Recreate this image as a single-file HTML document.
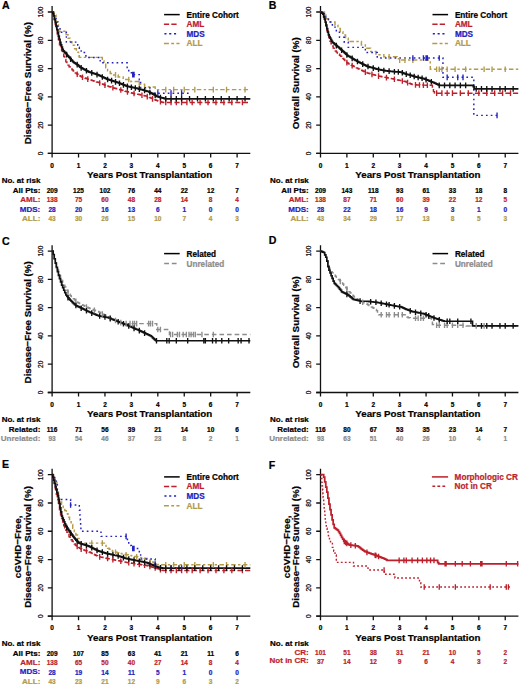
<!DOCTYPE html>
<html><head><meta charset="utf-8"><style>
html,body{margin:0;padding:0;background:#fff;width:520px;height:685px;overflow:hidden}
svg{display:block}
text{font-family:"Liberation Sans", sans-serif}
</style></head><body>
<svg width="520" height="685" viewBox="0 0 520 685" font-family='"Liberation Sans", sans-serif'>
<rect width="520" height="685" fill="#fff"/>
<path d="M52.1,6.1V157.5M47.8,153.4H250.32" fill="none" stroke="#111" stroke-width="1.3"/>
<path d="M47.8,153.4H52.1M47.8,125.12H52.1M47.8,96.84H52.1M47.8,68.56H52.1M47.8,40.28H52.1M47.8,12H52.1M78.53,153.4V157.5M104.96,153.4V157.5M131.39,153.4V157.5M157.82,153.4V157.5M184.25,153.4V157.5M210.68,153.4V157.5M237.11,153.4V157.5" fill="none" stroke="#111" stroke-width="1.3"/>
<text x="42.8" y="153.4" font-size="6.6" fill="#000" stroke="#000" stroke-width="0.22" font-weight="normal" text-anchor="middle" transform="rotate(-90 42.8 153.4)">0</text>
<text x="42.8" y="125.12" font-size="6.6" fill="#000" stroke="#000" stroke-width="0.22" font-weight="normal" text-anchor="middle" transform="rotate(-90 42.8 125.12)">20</text>
<text x="42.8" y="96.84" font-size="6.6" fill="#000" stroke="#000" stroke-width="0.22" font-weight="normal" text-anchor="middle" transform="rotate(-90 42.8 96.84)">40</text>
<text x="42.8" y="68.56" font-size="6.6" fill="#000" stroke="#000" stroke-width="0.22" font-weight="normal" text-anchor="middle" transform="rotate(-90 42.8 68.56)">60</text>
<text x="42.8" y="40.28" font-size="6.6" fill="#000" stroke="#000" stroke-width="0.22" font-weight="normal" text-anchor="middle" transform="rotate(-90 42.8 40.28)">80</text>
<text x="42.8" y="12" font-size="6.6" fill="#000" stroke="#000" stroke-width="0.22" font-weight="normal" text-anchor="middle" transform="rotate(-90 42.8 12)">100</text>
<text x="52.1" y="167.6" font-size="6.5" fill="#000" stroke="#000" stroke-width="0.22" font-weight="bold" text-anchor="middle">0</text>
<text x="78.53" y="167.6" font-size="6.5" fill="#000" stroke="#000" stroke-width="0.22" font-weight="bold" text-anchor="middle">1</text>
<text x="104.96" y="167.6" font-size="6.5" fill="#000" stroke="#000" stroke-width="0.22" font-weight="bold" text-anchor="middle">2</text>
<text x="131.39" y="167.6" font-size="6.5" fill="#000" stroke="#000" stroke-width="0.22" font-weight="bold" text-anchor="middle">3</text>
<text x="157.82" y="167.6" font-size="6.5" fill="#000" stroke="#000" stroke-width="0.22" font-weight="bold" text-anchor="middle">4</text>
<text x="184.25" y="167.6" font-size="6.5" fill="#000" stroke="#000" stroke-width="0.22" font-weight="bold" text-anchor="middle">5</text>
<text x="210.68" y="167.6" font-size="6.5" fill="#000" stroke="#000" stroke-width="0.22" font-weight="bold" text-anchor="middle">6</text>
<text x="237.11" y="167.6" font-size="6.5" fill="#000" stroke="#000" stroke-width="0.22" font-weight="bold" text-anchor="middle">7</text>
<text x="149.63" y="178.1" font-size="9.75" fill="#000" stroke="#000" stroke-width="0.22" font-weight="bold" text-anchor="middle">Years Post Transplantation</text>
<text x="31" y="83.2" font-size="9.8" fill="#000" stroke="#000" stroke-width="0.22" font-weight="bold" text-anchor="middle" transform="rotate(-90 31 83.2)">Disease−Free Survival (%)</text>
<text x="2.1" y="8.9" font-size="10.6" fill="#000" stroke="#000" stroke-width="0.22" font-weight="bold" text-anchor="start">A</text>
<path d="M52.1,12H54.21V15.25H56.06V21.9H58.44V31.23H66.11V34.62H67.96V38.16H70.07V41.69H71.92V45.23H74.57V48.76H76.42V52.3H78.53V55.83H79.32V57.39H102.32V60.78H103.9V64.32H105.75V67.85H107.6V70.68H110.25V73.51H113.68V74.92H118.18V77.04H123.2V79.45H130.86V81.57H138.53V84.26H144.6V86.94H155.18V89.63H250.32" fill="none" stroke="#b39a4c" stroke-width="1.45" stroke-dasharray="4.5 2.4 2.4 2.4"/>
<path d="M52.1,12H54.21V17.09H56.06V22.04H57.91V27.13H60.03V32.22H66.37V42.12H77.74V47.21H79.32V49.75H81.17V52.58H85.93V57.53H100.2V62.76H127.16V67.57H128.75V72.66H131.39V74.64H139.32V79.73H140.64V87.65H149.89V93.16H189.54" fill="none" stroke="#2222c0" stroke-width="1.45" stroke-dasharray="1.7 3.1"/>
<path d="M52.1,12H53.16V15.39H54.21V19.64H55.27V24.44H56.33V29.53H57.39V34.62H58.44V39.65H59.5V44.68H60.56V48.06H61.61V50.89H62.67V53.71H63.73V56.54H64.79V59.37H65.84V61.89H66.9V63.51H67.96V65.13H69.02V66.74H70.07V67.92H71.13V68.95H72.19V69.97H73.24V71H74.3V72.03H75.36V72.98H76.42V73.67H77.47V74.36H78.53V75.06H79.59V75.75H80.64V76.45H81.7V76.91H82.76V77.3H83.82V77.69H84.87V78.08H85.93V78.47H86.99V78.86H88.04V79.25H89.1V79.61H90.16V79.94H91.22V80.27H92.27V80.6H93.33V80.93H94.39V81.26H95.45V81.59H96.5V81.92H97.56V82.25H98.62V82.63H99.67V83.05H100.73V83.48H101.79V83.9H102.85V84.33H103.9V84.75H104.96V85.17H106.02V85.6H107.07V86.02H108.13V86.39H109.19V86.69H110.25V87H111.3V87.31H112.36V87.61H113.42V87.92H114.47V88.22H115.53V88.53H116.59V88.83H117.65V89.14H118.7V89.44H119.76V89.74H120.82V90.04H121.88V90.34H122.93V90.64H123.99V90.93H125.05V91.23H126.1V91.53H127.16V91.83H128.22V92.13H129.28V92.43H130.33V92.73H131.39V92.99H132.45V93.22H133.5V93.44H134.56V93.67H135.62V93.89H136.68V94.11H137.73V94.34H138.79V94.56H139.85V94.79H140.9V95.01H141.96V95.24H143.02V95.46H144.08V95.68H145.13V95.91H146.19V96.13H147.25V96.58H148.31V97.03H149.36V97.48H150.42V97.93H151.48V98.38H152.53V98.83H153.59V99.28H154.65V99.73H155.71V100.18H156.76V100.63H157.82V101.08H158.88V101.36H159.93V101.65H160.99V101.93H162.05V102.21H163.11V102.5H250.32" fill="none" stroke="#bd1f2b" stroke-width="1.45" stroke-dasharray="5.2 2.4"/>
<path d="M52.1,12H52.89V13.7H53.69V15.96H54.48V19.35H55.27V22.75H56.06V26.14H56.86V29.53H57.65V32.9H58.44V36.2H59.24V39.49H60.03V42.47H60.82V44.78H61.61V47.09H62.41V49.41H63.2V50.78H63.99V51.68H64.79V52.58H65.58V53.48H66.37V54.37H67.17V55.27H67.96V56.17H68.75V57.07H69.54V57.97H70.34V58.88H71.13V59.78H71.92V60.69H72.72V61.59H73.51V62.36H74.3V62.84H75.09V63.32H75.89V63.8H76.68V64.28H77.47V64.86H78.27V65.62H79.06V66.38H79.85V67.15H80.64V67.57H81.44V67.99H82.23V68.42H83.02V68.84H83.82V69.27H84.61V69.69H85.4V70.12H86.19V70.54H86.99V70.96H87.78V71.39H88.57V71.81H89.37V72.07H90.16V72.33H90.95V72.59H91.75V72.85H92.54V73.11H93.33V73.37H94.12V73.63H94.92V73.89H95.71V74.15H96.5V74.4H97.3V74.66H98.09V74.92H98.88V75.3H99.67V75.68H100.47V76.05H101.26V76.43H102.05V76.81H102.85V77.19H103.64V77.56H104.43V77.94H105.22V78.32H106.02V78.69H106.81V79.07H107.6V79.45H108.4V79.69H109.19V79.93H109.98V80.17H110.77V80.41H111.57V80.65H112.36V80.89H113.15V81.13H113.95V81.37H114.74V81.61H115.53V81.86H116.32V82.1H117.12V82.34H117.91V82.63H118.7V82.95H119.5V83.27H120.29V83.58H121.08V83.9H121.88V84.22H122.67V84.54H123.46V84.86H124.25V85.17H125.05V85.49H125.84V85.81H126.63V86.13H127.43V86.35H128.22V86.52H129.01V86.69H129.8V86.87H130.6V87.04H131.39V87.21H132.18V87.38H132.98V87.55H133.77V87.73H134.56V87.9H135.35V88.07H136.15V88.24H136.94V88.43H137.73V88.65H138.53V88.86H139.32V89.08H140.11V89.3H140.9V89.51H141.7V89.73H142.49V89.95H143.28V90.16H144.08V90.38H144.87V90.6H145.66V90.82H146.46V91.03H147.25V91.25H148.04V91.47H148.83V91.9H149.63V92.34H150.42V92.77H151.21V93.21H152.01V93.65H152.8V94.08H153.59V94.52H154.38V94.95H155.18V95.39H155.97V95.82H156.76V96.26H157.56V96.69H158.35V96.97H159.14V97.17H159.93V97.37H160.73V97.57H161.52V97.76H162.31V97.96H163.11V98.16H163.9V98.36H164.69V98.56H165.48V98.75H250.32" fill="none" stroke="#111" stroke-width="1.75"/>
<path d="M77.21,71.39V76.99M82.49,74.4V80M87.78,76.36V81.96M99.67,80.25V85.85M104.96,82.37V87.97M112.89,84.96V90.56M120.82,87.24V92.84M127.43,89.11V94.71M134.03,90.75V96.35M141.96,92.44V98.04M147.25,93.78V99.38M152.53,96.03V101.63M160.46,98.99V104.59M165.75,99.7V105.3M171.03,99.7V105.3M176.32,99.7V105.3M181.61,99.7V105.3M186.89,99.7V105.3M192.18,99.7V105.3M200.11,99.7V105.3M208.04,99.7V105.3M215.97,99.7V105.3M223.89,99.7V105.3M231.82,99.7V105.3M242.4,99.7V105.3" fill="none" stroke="#bd1f2b" stroke-width="1.35"/>
<path d="M115.53,72.12V77.72M128.75,76.65V82.25M139.32,81.46V87.06M165.75,86.83V92.43M173.68,86.83V92.43M184.25,86.83V92.43M194.82,86.83V92.43M213.32,86.83V92.43M226.54,86.83V92.43M245.04,86.83V92.43" fill="none" stroke="#b39a4c" stroke-width="1.35"/>
<path d="M132.71,71.84V77.44M134.03,71.84V77.44M157.82,90.36V95.96M171.03,90.36V95.96M181.61,90.36V95.96" fill="none" stroke="#2222c0" stroke-width="1.35"/>
<path d="M66.64,51.87V57.47M70.6,56.38V61.98M77.21,61.8V67.4M81.17,65.05V70.65M86.46,67.88V73.48M91.75,70.05V75.65M97.03,71.78V77.38M102.32,74.13V79.73M107.6,76.65V82.25M111.57,77.85V83.45M115.53,79.06V84.66M119.5,80.47V86.07M123.46,82.06V87.66M127.43,83.55V89.15M131.39,84.41V90.01M135.35,85.27V90.87M139.32,86.28V91.88M144.6,87.73V93.33M149.89,89.68V95.28M155.18,92.59V98.19M160.46,94.7V100.3M165.75,96.02V101.62M171.03,96.02V101.62M176.32,96.02V101.62M181.61,96.02V101.62M189.54,96.02V101.62M197.47,96.02V101.62M205.39,96.02V101.62M213.32,96.02V101.62M221.25,96.02V101.62M229.18,96.02V101.62M237.11,96.02V101.62M245.04,96.02V101.62" fill="none" stroke="#111" stroke-width="1.35"/>
<path d="M164.1,14.6h15.6" stroke="#000" stroke-width="1.5"/>
<text x="186.5" y="17.5" font-size="8.2" fill="#000" stroke="#000" stroke-width="0.22" font-weight="bold" text-anchor="start">Entire Cohort</text>
<path d="M163.9,24.2h12.7" stroke="#bd1f2b" stroke-width="1.5" stroke-dasharray="5.3 2.1"/>
<text x="186.5" y="27.1" font-size="8.2" fill="#bd1f2b" stroke="#bd1f2b" stroke-width="0.22" font-weight="bold" text-anchor="start">AML</text>
<path d="M164.4,33.8h12.1" stroke="#2222c0" stroke-width="1.5" stroke-dasharray="2.1 2.7"/>
<text x="186.5" y="36.7" font-size="8.2" fill="#2222c0" stroke="#2222c0" stroke-width="0.22" font-weight="bold" text-anchor="start">MDS</text>
<path d="M163.9,43.4h15.6" stroke="#b39a4c" stroke-width="1.5" stroke-dasharray="5 2.3 2.9 2.3 3.1 9"/>
<text x="186.5" y="46.3" font-size="8.2" fill="#b39a4c" stroke="#b39a4c" stroke-width="0.22" font-weight="bold" text-anchor="start">ALL</text>
<text x="1.7" y="182.8" font-size="8.0" fill="#000" stroke="#000" stroke-width="0.22" font-weight="bold" text-anchor="start">No. at risk</text>
<text x="40.3" y="192.8" font-size="8.0" fill="#000" stroke="#000" stroke-width="0.22" font-weight="bold" text-anchor="end">All Pts:</text>
<text x="52.1" y="192.9" font-size="6.5" fill="#000" stroke="#000" stroke-width="0.22" font-weight="bold" text-anchor="middle">209</text>
<text x="78.53" y="192.9" font-size="6.5" fill="#000" stroke="#000" stroke-width="0.22" font-weight="bold" text-anchor="middle">125</text>
<text x="104.96" y="192.9" font-size="6.5" fill="#000" stroke="#000" stroke-width="0.22" font-weight="bold" text-anchor="middle">102</text>
<text x="131.39" y="192.9" font-size="6.5" fill="#000" stroke="#000" stroke-width="0.22" font-weight="bold" text-anchor="middle">76</text>
<text x="157.82" y="192.9" font-size="6.5" fill="#000" stroke="#000" stroke-width="0.22" font-weight="bold" text-anchor="middle">44</text>
<text x="184.25" y="192.9" font-size="6.5" fill="#000" stroke="#000" stroke-width="0.22" font-weight="bold" text-anchor="middle">22</text>
<text x="210.68" y="192.9" font-size="6.5" fill="#000" stroke="#000" stroke-width="0.22" font-weight="bold" text-anchor="middle">12</text>
<text x="237.11" y="192.9" font-size="6.5" fill="#000" stroke="#000" stroke-width="0.22" font-weight="bold" text-anchor="middle">7</text>
<text x="40.3" y="202.25" font-size="8.0" fill="#bd1f2b" stroke="#bd1f2b" stroke-width="0.22" font-weight="bold" text-anchor="end">AML:</text>
<text x="52.1" y="202.35" font-size="6.5" fill="#bd1f2b" stroke="#bd1f2b" stroke-width="0.22" font-weight="bold" text-anchor="middle">138</text>
<text x="78.53" y="202.35" font-size="6.5" fill="#bd1f2b" stroke="#bd1f2b" stroke-width="0.22" font-weight="bold" text-anchor="middle">75</text>
<text x="104.96" y="202.35" font-size="6.5" fill="#bd1f2b" stroke="#bd1f2b" stroke-width="0.22" font-weight="bold" text-anchor="middle">60</text>
<text x="131.39" y="202.35" font-size="6.5" fill="#bd1f2b" stroke="#bd1f2b" stroke-width="0.22" font-weight="bold" text-anchor="middle">48</text>
<text x="157.82" y="202.35" font-size="6.5" fill="#bd1f2b" stroke="#bd1f2b" stroke-width="0.22" font-weight="bold" text-anchor="middle">28</text>
<text x="184.25" y="202.35" font-size="6.5" fill="#bd1f2b" stroke="#bd1f2b" stroke-width="0.22" font-weight="bold" text-anchor="middle">14</text>
<text x="210.68" y="202.35" font-size="6.5" fill="#bd1f2b" stroke="#bd1f2b" stroke-width="0.22" font-weight="bold" text-anchor="middle">8</text>
<text x="237.11" y="202.35" font-size="6.5" fill="#bd1f2b" stroke="#bd1f2b" stroke-width="0.22" font-weight="bold" text-anchor="middle">4</text>
<text x="40.3" y="211.7" font-size="8.0" fill="#2222c0" stroke="#2222c0" stroke-width="0.22" font-weight="bold" text-anchor="end">MDS:</text>
<text x="52.1" y="211.8" font-size="6.5" fill="#2222c0" stroke="#2222c0" stroke-width="0.22" font-weight="bold" text-anchor="middle">28</text>
<text x="78.53" y="211.8" font-size="6.5" fill="#2222c0" stroke="#2222c0" stroke-width="0.22" font-weight="bold" text-anchor="middle">20</text>
<text x="104.96" y="211.8" font-size="6.5" fill="#2222c0" stroke="#2222c0" stroke-width="0.22" font-weight="bold" text-anchor="middle">16</text>
<text x="131.39" y="211.8" font-size="6.5" fill="#2222c0" stroke="#2222c0" stroke-width="0.22" font-weight="bold" text-anchor="middle">13</text>
<text x="157.82" y="211.8" font-size="6.5" fill="#2222c0" stroke="#2222c0" stroke-width="0.22" font-weight="bold" text-anchor="middle">6</text>
<text x="184.25" y="211.8" font-size="6.5" fill="#2222c0" stroke="#2222c0" stroke-width="0.22" font-weight="bold" text-anchor="middle">1</text>
<text x="210.68" y="211.8" font-size="6.5" fill="#2222c0" stroke="#2222c0" stroke-width="0.22" font-weight="bold" text-anchor="middle">0</text>
<text x="237.11" y="211.8" font-size="6.5" fill="#2222c0" stroke="#2222c0" stroke-width="0.22" font-weight="bold" text-anchor="middle">0</text>
<text x="40.3" y="221.15" font-size="8.0" fill="#b39a4c" stroke="#b39a4c" stroke-width="0.22" font-weight="bold" text-anchor="end">ALL:</text>
<text x="52.1" y="221.25" font-size="6.5" fill="#b39a4c" stroke="#b39a4c" stroke-width="0.22" font-weight="bold" text-anchor="middle">43</text>
<text x="78.53" y="221.25" font-size="6.5" fill="#b39a4c" stroke="#b39a4c" stroke-width="0.22" font-weight="bold" text-anchor="middle">30</text>
<text x="104.96" y="221.25" font-size="6.5" fill="#b39a4c" stroke="#b39a4c" stroke-width="0.22" font-weight="bold" text-anchor="middle">26</text>
<text x="131.39" y="221.25" font-size="6.5" fill="#b39a4c" stroke="#b39a4c" stroke-width="0.22" font-weight="bold" text-anchor="middle">15</text>
<text x="157.82" y="221.25" font-size="6.5" fill="#b39a4c" stroke="#b39a4c" stroke-width="0.22" font-weight="bold" text-anchor="middle">10</text>
<text x="184.25" y="221.25" font-size="6.5" fill="#b39a4c" stroke="#b39a4c" stroke-width="0.22" font-weight="bold" text-anchor="middle">7</text>
<text x="210.68" y="221.25" font-size="6.5" fill="#b39a4c" stroke="#b39a4c" stroke-width="0.22" font-weight="bold" text-anchor="middle">4</text>
<text x="237.11" y="221.25" font-size="6.5" fill="#b39a4c" stroke="#b39a4c" stroke-width="0.22" font-weight="bold" text-anchor="middle">3</text>
<path d="M320.5,6.1V157.5M316.2,153.4H518.42" fill="none" stroke="#111" stroke-width="1.3"/>
<path d="M316.2,153.4H320.5M316.2,125.12H320.5M316.2,96.84H320.5M316.2,68.56H320.5M316.2,40.28H320.5M316.2,12H320.5M346.89,153.4V157.5M373.28,153.4V157.5M399.67,153.4V157.5M426.06,153.4V157.5M452.45,153.4V157.5M478.84,153.4V157.5M505.23,153.4V157.5" fill="none" stroke="#111" stroke-width="1.3"/>
<text x="311.2" y="153.4" font-size="6.6" fill="#000" stroke="#000" stroke-width="0.22" font-weight="normal" text-anchor="middle" transform="rotate(-90 311.2 153.4)">0</text>
<text x="311.2" y="125.12" font-size="6.6" fill="#000" stroke="#000" stroke-width="0.22" font-weight="normal" text-anchor="middle" transform="rotate(-90 311.2 125.12)">20</text>
<text x="311.2" y="96.84" font-size="6.6" fill="#000" stroke="#000" stroke-width="0.22" font-weight="normal" text-anchor="middle" transform="rotate(-90 311.2 96.84)">40</text>
<text x="311.2" y="68.56" font-size="6.6" fill="#000" stroke="#000" stroke-width="0.22" font-weight="normal" text-anchor="middle" transform="rotate(-90 311.2 68.56)">60</text>
<text x="311.2" y="40.28" font-size="6.6" fill="#000" stroke="#000" stroke-width="0.22" font-weight="normal" text-anchor="middle" transform="rotate(-90 311.2 40.28)">80</text>
<text x="311.2" y="12" font-size="6.6" fill="#000" stroke="#000" stroke-width="0.22" font-weight="normal" text-anchor="middle" transform="rotate(-90 311.2 12)">100</text>
<text x="320.5" y="167.6" font-size="6.5" fill="#000" stroke="#000" stroke-width="0.22" font-weight="bold" text-anchor="middle">0</text>
<text x="346.89" y="167.6" font-size="6.5" fill="#000" stroke="#000" stroke-width="0.22" font-weight="bold" text-anchor="middle">1</text>
<text x="373.28" y="167.6" font-size="6.5" fill="#000" stroke="#000" stroke-width="0.22" font-weight="bold" text-anchor="middle">2</text>
<text x="399.67" y="167.6" font-size="6.5" fill="#000" stroke="#000" stroke-width="0.22" font-weight="bold" text-anchor="middle">3</text>
<text x="426.06" y="167.6" font-size="6.5" fill="#000" stroke="#000" stroke-width="0.22" font-weight="bold" text-anchor="middle">4</text>
<text x="452.45" y="167.6" font-size="6.5" fill="#000" stroke="#000" stroke-width="0.22" font-weight="bold" text-anchor="middle">5</text>
<text x="478.84" y="167.6" font-size="6.5" fill="#000" stroke="#000" stroke-width="0.22" font-weight="bold" text-anchor="middle">6</text>
<text x="505.23" y="167.6" font-size="6.5" fill="#000" stroke="#000" stroke-width="0.22" font-weight="bold" text-anchor="middle">7</text>
<text x="417.88" y="178.1" font-size="9.75" fill="#000" stroke="#000" stroke-width="0.22" font-weight="bold" text-anchor="middle">Years Post Transplantation</text>
<text x="299.4" y="83.2" font-size="9.8" fill="#000" stroke="#000" stroke-width="0.22" font-weight="bold" text-anchor="middle" transform="rotate(-90 299.4 83.2)">Overall Survival (%)</text>
<text x="268.7" y="9.1" font-size="10.6" fill="#000" stroke="#000" stroke-width="0.22" font-weight="bold" text-anchor="start">B</text>
<path d="M320.5,12H324.46V15.25H326.31V18.65H328.42V21.9H335.01V25.15H337.92V28.4H340.29V31.8H342.93V35.05H345.57V38.3H348.21V41.55H361.4V44.95H365.36V48.2H370.64V51.45H375.92V54.7H383.84V56.68H397.03V58.66H399.67V60.08H430.28V69.27H518.42" fill="none" stroke="#b39a4c" stroke-width="1.45" stroke-dasharray="4.5 2.4 2.4 2.4"/>
<path d="M320.5,12H324.46V17.09H328.42V22.04H332.38V27.13H336.33V32.22H339.5V37.31H344.25V42.26H348.21V47.35H365.36V52.44H377.24V57.96H442.95V77.33H473.83V115.36H497.05" fill="none" stroke="#2222c0" stroke-width="1.45" stroke-dasharray="1.7 3.1"/>
<path d="M320.5,12H321.56V12.71H322.61V13.41H323.67V17.45H324.72V21.62H325.78V26.14H326.83V30.66H327.89V34.38H328.94V37.82H330V41.26H331.06V43.75H332.11V45.94H333.17V48.12H334.22V50.02H335.28V51.07H336.33V52.13H337.39V53.18H338.45V54.23H339.5V55.29H340.56V56.34H341.61V57.39H342.67V58.45H343.72V59.5H344.78V60.55H345.83V61.61H346.89V62.66H347.95V63.46H349V64.01H350.06V64.56H351.11V65.11H352.17V65.66H353.22V66.21H354.28V66.76H355.33V67.31H356.39V67.86H357.45V68.4H358.5V68.91H359.56V69.41H360.61V69.91H361.67V70.41H362.72V70.92H363.78V71.42H364.84V71.92H365.89V72.42H366.95V72.88H368V73.19H369.06V73.51H370.11V73.82H371.17V74.14H372.22V74.45H373.28V74.77H374.34V75.08H375.39V75.39H376.45V75.68H377.5V75.89H378.56V76.1H379.61V76.31H380.67V76.52H381.72V76.73H382.78V76.94H383.84V77.15H384.89V77.36H385.95V77.57H387V77.77H388.06V77.98H389.11V78.19H390.17V78.4H391.23V78.61H392.28V78.82H393.34V79.03H394.39V79.24H395.45V79.45H396.5V79.68H397.56V79.92H398.61V80.15H399.67V80.39H400.73V80.63H401.78V80.86H402.84V81.1H403.89V81.33H404.95V81.57H406V82H407.06V82.44H408.11V82.87H409.17V83.3H410.23V83.74H411.28V84.17H412.34V84.6H413.39V84.84H416.56V84.93H419.73V85.03H422.89V85.13H426.06V85.23H429.23V85.32H432.39V88.5H433.45V91.61H434.5V93.16H518.42" fill="none" stroke="#bd1f2b" stroke-width="1.45" stroke-dasharray="5.2 2.4"/>
<path d="M320.5,12H321.29V12.53H322.08V13.06H322.88V14.22H323.67V16.65H324.46V19.07H325.25V22.1H326.04V25.13H326.83V28.52H327.63V32.1H328.42V34.99H329.21V36.52H330V38.05H330.79V39.57H331.58V41.1H332.38V42.34H333.17V42.99H333.96V43.65H334.75V44.3H335.54V44.96H336.33V45.61H337.13V46.27H337.92V46.93H338.71V47.64H339.5V48.36H340.29V49.08H341.08V49.8H341.88V50.52H342.67V51.24H343.46V51.96H344.25V52.68H345.04V53.39H345.83V54.11H346.63V54.83H347.42V55.55H348.21V56.02H349V56.49H349.79V56.96H350.58V57.43H351.38V57.9H352.17V58.37H352.96V58.84H353.75V59.31H354.54V59.78H355.33V60.25H356.13V60.72H356.92V61.19H357.71V61.62H358.5V62.02H359.29V62.42H360.09V62.82H360.88V63.22H361.67V63.62H362.46V64.02H363.25V64.42H364.04V64.82H364.84V65.22H365.63V65.62H366.42V66.02H367.21V66.31H368V66.55H368.79V66.78H369.59V67.02H370.38V67.26H371.17V67.49H371.96V67.73H372.75V67.96H373.54V68.2H374.34V68.43H375.13V68.67H375.92V68.91H376.71V69.09H377.5V69.24H378.29V69.39H379.09V69.55H379.88V69.7H380.67V69.85H381.46V70.01H382.25V70.16H383.04V70.31H383.84V70.46H384.63V70.62H385.42V70.77H386.21V70.88H387V70.96H387.79V71.04H388.59V71.12H389.38V71.2H390.17V71.28H390.96V71.36H391.75V71.44H392.54V71.52H393.34V71.6H394.13V71.68H394.92V71.76H396.5V71.87H398.09V71.96H399.67V72.05H401.25V72.39H402.05V72.69H402.84V72.99H403.63V73.29H404.42V73.59H405.21V73.86H406V74.07H406.8V74.29H407.59V74.5H408.38V74.71H409.17V74.92H409.96V75.14H410.75V75.35H411.55V75.56H412.34V75.83H413.13V76.12H413.92V76.42H414.71V76.68H415.5V76.85H416.3V77.03H417.09V77.2H417.88V77.38H418.67V77.55H419.46V77.73H420.25V77.9H421.05V78.08H421.84V78.25H422.63V78.42H423.42V78.6H424.21V78.92H425V79.23H425.8V79.55H426.59V79.86H427.38V80.18H428.17V80.49H428.96V80.81H429.75V81.12H430.55V81.44H431.34V81.76H432.13V82.07H432.92V82.39H433.71V82.7H434.5V83.02H435.3V83.39H436.09V83.79H436.88V84.19H437.67V84.59H438.46V84.99H439.25V85.39H473.3V86.56H474.09V88.92H518.42" fill="none" stroke="#111" stroke-width="1.75"/>
<path d="M346.89,59.86V65.46M352.17,62.86V68.46M365.36,69.37V74.97M371.96,71.57V77.17M378.56,73.3V78.9M386.48,74.87V80.47M394.39,76.44V82.04M402.31,78.18V83.78M407.59,79.85V85.45M415.5,82.1V87.7M419.46,82.22V87.82M423.42,82.34V87.94M427.38,82.47V88.07M436.62,90.36V95.96M441.89,90.36V95.96M447.17,90.36V95.96M452.45,90.36V95.96M460.37,90.36V95.96M468.28,90.36V95.96M478.84,90.36V95.96M486.76,90.36V95.96M494.67,90.36V95.96M502.59,90.36V95.96M510.51,90.36V95.96" fill="none" stroke="#bd1f2b" stroke-width="1.35"/>
<path d="M389.11,53.88V59.48M399.67,57.28V62.88M404.95,57.28V62.88M412.87,57.28V62.88M436.62,66.47V72.07M439.25,66.47V72.07M441.89,66.47V72.07M447.17,66.47V72.07M455.09,66.47V72.07M465.64,66.47V72.07M484.12,66.47V72.07M492.03,66.47V72.07M505.23,66.47V72.07" fill="none" stroke="#b39a4c" stroke-width="1.35"/>
<path d="M412.87,55.16V60.76M423.42,55.16V60.76M426.06,55.16V60.76M427.38,55.16V60.76M439.25,55.16V60.76M447.17,74.53V80.13M457.73,74.53V80.13M463.01,74.53V80.13M497.05,112.56V118.16" fill="none" stroke="#2222c0" stroke-width="1.35"/>
<path d="M336.33,42.81V48.41M341.61,47.48V53.08M346.89,52.27V57.87M352.17,55.57V61.17M357.45,58.68V64.28M362.72,61.35V66.95M368,63.75V69.35M373.28,65.32V70.92M378.56,66.64V72.24M383.84,67.66V73.26M389.11,68.37V73.97M394.39,68.91V74.51M398.35,69.18V74.78M402.31,69.99V75.59M406.27,71.35V76.95M410.23,72.41V78.01M414.18,73.72V79.32M418.14,74.63V80.23M422.1,75.51V81.11M426.06,76.85V82.45M431.34,78.96V84.56M439.25,82.59V88.19M444.53,82.59V88.19M449.81,82.59V88.19M455.09,82.59V88.19M460.37,82.59V88.19M465.64,82.59V88.19M476.2,86.12V91.72M481.48,86.12V91.72M486.76,86.12V91.72M492.03,86.12V91.72M499.95,86.12V91.72M505.23,86.12V91.72M513.15,86.12V91.72" fill="none" stroke="#111" stroke-width="1.35"/>
<path d="M432.5,14.6h15.6" stroke="#000" stroke-width="1.5"/>
<text x="454.9" y="17.5" font-size="8.2" fill="#000" stroke="#000" stroke-width="0.22" font-weight="bold" text-anchor="start">Entire Cohort</text>
<path d="M432.3,24.2h12.7" stroke="#bd1f2b" stroke-width="1.5" stroke-dasharray="5.3 2.1"/>
<text x="454.9" y="27.1" font-size="8.2" fill="#bd1f2b" stroke="#bd1f2b" stroke-width="0.22" font-weight="bold" text-anchor="start">AML</text>
<path d="M432.8,33.8h12.1" stroke="#2222c0" stroke-width="1.5" stroke-dasharray="2.1 2.7"/>
<text x="454.9" y="36.7" font-size="8.2" fill="#2222c0" stroke="#2222c0" stroke-width="0.22" font-weight="bold" text-anchor="start">MDS</text>
<path d="M432.3,43.4h15.6" stroke="#b39a4c" stroke-width="1.5" stroke-dasharray="5 2.3 2.9 2.3 3.1 9"/>
<text x="454.9" y="46.3" font-size="8.2" fill="#b39a4c" stroke="#b39a4c" stroke-width="0.22" font-weight="bold" text-anchor="start">ALL</text>
<text x="270.1" y="182.8" font-size="8.0" fill="#000" stroke="#000" stroke-width="0.22" font-weight="bold" text-anchor="start">No. at risk</text>
<text x="308.7" y="192.8" font-size="8.0" fill="#000" stroke="#000" stroke-width="0.22" font-weight="bold" text-anchor="end">All Pts:</text>
<text x="320.5" y="192.9" font-size="6.5" fill="#000" stroke="#000" stroke-width="0.22" font-weight="bold" text-anchor="middle">209</text>
<text x="346.89" y="192.9" font-size="6.5" fill="#000" stroke="#000" stroke-width="0.22" font-weight="bold" text-anchor="middle">143</text>
<text x="373.28" y="192.9" font-size="6.5" fill="#000" stroke="#000" stroke-width="0.22" font-weight="bold" text-anchor="middle">118</text>
<text x="399.67" y="192.9" font-size="6.5" fill="#000" stroke="#000" stroke-width="0.22" font-weight="bold" text-anchor="middle">93</text>
<text x="426.06" y="192.9" font-size="6.5" fill="#000" stroke="#000" stroke-width="0.22" font-weight="bold" text-anchor="middle">61</text>
<text x="452.45" y="192.9" font-size="6.5" fill="#000" stroke="#000" stroke-width="0.22" font-weight="bold" text-anchor="middle">33</text>
<text x="478.84" y="192.9" font-size="6.5" fill="#000" stroke="#000" stroke-width="0.22" font-weight="bold" text-anchor="middle">18</text>
<text x="505.23" y="192.9" font-size="6.5" fill="#000" stroke="#000" stroke-width="0.22" font-weight="bold" text-anchor="middle">8</text>
<text x="308.7" y="202.25" font-size="8.0" fill="#bd1f2b" stroke="#bd1f2b" stroke-width="0.22" font-weight="bold" text-anchor="end">AML:</text>
<text x="320.5" y="202.35" font-size="6.5" fill="#bd1f2b" stroke="#bd1f2b" stroke-width="0.22" font-weight="bold" text-anchor="middle">138</text>
<text x="346.89" y="202.35" font-size="6.5" fill="#bd1f2b" stroke="#bd1f2b" stroke-width="0.22" font-weight="bold" text-anchor="middle">87</text>
<text x="373.28" y="202.35" font-size="6.5" fill="#bd1f2b" stroke="#bd1f2b" stroke-width="0.22" font-weight="bold" text-anchor="middle">71</text>
<text x="399.67" y="202.35" font-size="6.5" fill="#bd1f2b" stroke="#bd1f2b" stroke-width="0.22" font-weight="bold" text-anchor="middle">60</text>
<text x="426.06" y="202.35" font-size="6.5" fill="#bd1f2b" stroke="#bd1f2b" stroke-width="0.22" font-weight="bold" text-anchor="middle">39</text>
<text x="452.45" y="202.35" font-size="6.5" fill="#bd1f2b" stroke="#bd1f2b" stroke-width="0.22" font-weight="bold" text-anchor="middle">22</text>
<text x="478.84" y="202.35" font-size="6.5" fill="#bd1f2b" stroke="#bd1f2b" stroke-width="0.22" font-weight="bold" text-anchor="middle">12</text>
<text x="505.23" y="202.35" font-size="6.5" fill="#bd1f2b" stroke="#bd1f2b" stroke-width="0.22" font-weight="bold" text-anchor="middle">5</text>
<text x="308.7" y="211.7" font-size="8.0" fill="#2222c0" stroke="#2222c0" stroke-width="0.22" font-weight="bold" text-anchor="end">MDS:</text>
<text x="320.5" y="211.8" font-size="6.5" fill="#2222c0" stroke="#2222c0" stroke-width="0.22" font-weight="bold" text-anchor="middle">28</text>
<text x="346.89" y="211.8" font-size="6.5" fill="#2222c0" stroke="#2222c0" stroke-width="0.22" font-weight="bold" text-anchor="middle">22</text>
<text x="373.28" y="211.8" font-size="6.5" fill="#2222c0" stroke="#2222c0" stroke-width="0.22" font-weight="bold" text-anchor="middle">18</text>
<text x="399.67" y="211.8" font-size="6.5" fill="#2222c0" stroke="#2222c0" stroke-width="0.22" font-weight="bold" text-anchor="middle">16</text>
<text x="426.06" y="211.8" font-size="6.5" fill="#2222c0" stroke="#2222c0" stroke-width="0.22" font-weight="bold" text-anchor="middle">9</text>
<text x="452.45" y="211.8" font-size="6.5" fill="#2222c0" stroke="#2222c0" stroke-width="0.22" font-weight="bold" text-anchor="middle">3</text>
<text x="478.84" y="211.8" font-size="6.5" fill="#2222c0" stroke="#2222c0" stroke-width="0.22" font-weight="bold" text-anchor="middle">1</text>
<text x="505.23" y="211.8" font-size="6.5" fill="#2222c0" stroke="#2222c0" stroke-width="0.22" font-weight="bold" text-anchor="middle">0</text>
<text x="308.7" y="221.15" font-size="8.0" fill="#b39a4c" stroke="#b39a4c" stroke-width="0.22" font-weight="bold" text-anchor="end">ALL:</text>
<text x="320.5" y="221.25" font-size="6.5" fill="#b39a4c" stroke="#b39a4c" stroke-width="0.22" font-weight="bold" text-anchor="middle">43</text>
<text x="346.89" y="221.25" font-size="6.5" fill="#b39a4c" stroke="#b39a4c" stroke-width="0.22" font-weight="bold" text-anchor="middle">34</text>
<text x="373.28" y="221.25" font-size="6.5" fill="#b39a4c" stroke="#b39a4c" stroke-width="0.22" font-weight="bold" text-anchor="middle">29</text>
<text x="399.67" y="221.25" font-size="6.5" fill="#b39a4c" stroke="#b39a4c" stroke-width="0.22" font-weight="bold" text-anchor="middle">17</text>
<text x="426.06" y="221.25" font-size="6.5" fill="#b39a4c" stroke="#b39a4c" stroke-width="0.22" font-weight="bold" text-anchor="middle">13</text>
<text x="452.45" y="221.25" font-size="6.5" fill="#b39a4c" stroke="#b39a4c" stroke-width="0.22" font-weight="bold" text-anchor="middle">8</text>
<text x="478.84" y="221.25" font-size="6.5" fill="#b39a4c" stroke="#b39a4c" stroke-width="0.22" font-weight="bold" text-anchor="middle">5</text>
<text x="505.23" y="221.25" font-size="6.5" fill="#b39a4c" stroke="#b39a4c" stroke-width="0.22" font-weight="bold" text-anchor="middle">3</text>
<path d="M52.1,245.2V396.6M47.8,392.5H250.32" fill="none" stroke="#111" stroke-width="1.3"/>
<path d="M47.8,392.5H52.1M47.8,364.22H52.1M47.8,335.94H52.1M47.8,307.66H52.1M47.8,279.38H52.1M47.8,251.1H52.1M78.53,392.5V396.6M104.96,392.5V396.6M131.39,392.5V396.6M157.82,392.5V396.6M184.25,392.5V396.6M210.68,392.5V396.6M237.11,392.5V396.6" fill="none" stroke="#111" stroke-width="1.3"/>
<text x="42.8" y="392.5" font-size="6.6" fill="#000" stroke="#000" stroke-width="0.22" font-weight="normal" text-anchor="middle" transform="rotate(-90 42.8 392.5)">0</text>
<text x="42.8" y="364.22" font-size="6.6" fill="#000" stroke="#000" stroke-width="0.22" font-weight="normal" text-anchor="middle" transform="rotate(-90 42.8 364.22)">20</text>
<text x="42.8" y="335.94" font-size="6.6" fill="#000" stroke="#000" stroke-width="0.22" font-weight="normal" text-anchor="middle" transform="rotate(-90 42.8 335.94)">40</text>
<text x="42.8" y="307.66" font-size="6.6" fill="#000" stroke="#000" stroke-width="0.22" font-weight="normal" text-anchor="middle" transform="rotate(-90 42.8 307.66)">60</text>
<text x="42.8" y="279.38" font-size="6.6" fill="#000" stroke="#000" stroke-width="0.22" font-weight="normal" text-anchor="middle" transform="rotate(-90 42.8 279.38)">80</text>
<text x="42.8" y="251.1" font-size="6.6" fill="#000" stroke="#000" stroke-width="0.22" font-weight="normal" text-anchor="middle" transform="rotate(-90 42.8 251.1)">100</text>
<text x="52.1" y="406.7" font-size="6.5" fill="#000" stroke="#000" stroke-width="0.22" font-weight="bold" text-anchor="middle">0</text>
<text x="78.53" y="406.7" font-size="6.5" fill="#000" stroke="#000" stroke-width="0.22" font-weight="bold" text-anchor="middle">1</text>
<text x="104.96" y="406.7" font-size="6.5" fill="#000" stroke="#000" stroke-width="0.22" font-weight="bold" text-anchor="middle">2</text>
<text x="131.39" y="406.7" font-size="6.5" fill="#000" stroke="#000" stroke-width="0.22" font-weight="bold" text-anchor="middle">3</text>
<text x="157.82" y="406.7" font-size="6.5" fill="#000" stroke="#000" stroke-width="0.22" font-weight="bold" text-anchor="middle">4</text>
<text x="184.25" y="406.7" font-size="6.5" fill="#000" stroke="#000" stroke-width="0.22" font-weight="bold" text-anchor="middle">5</text>
<text x="210.68" y="406.7" font-size="6.5" fill="#000" stroke="#000" stroke-width="0.22" font-weight="bold" text-anchor="middle">6</text>
<text x="237.11" y="406.7" font-size="6.5" fill="#000" stroke="#000" stroke-width="0.22" font-weight="bold" text-anchor="middle">7</text>
<text x="149.63" y="417.2" font-size="9.75" fill="#000" stroke="#000" stroke-width="0.22" font-weight="bold" text-anchor="middle">Years Post Transplantation</text>
<text x="31" y="322.3" font-size="9.8" fill="#000" stroke="#000" stroke-width="0.22" font-weight="bold" text-anchor="middle" transform="rotate(-90 31 322.3)">Disease−Free Survival (%)</text>
<text x="2.1" y="244.6" font-size="10.6" fill="#000" stroke="#000" stroke-width="0.22" font-weight="bold" text-anchor="start">C</text>
<path d="M52.1,251.1H53.16V254.49H54.21V258.74H55.27V262.69H56.33V266.09H57.39V269.48H58.44V272.88H59.5V275.53H60.56V277.94H61.61V280.35H62.67V282.77H63.73V285.18H64.79V286.98H65.84V288.79H66.9V290.59H67.96V292.4H69.02V294.2H70.07V295.44H71.13V296.49H72.19V297.55H73.24V298.6H74.3V299.65H75.36V300.71H76.42V301.76H77.47V302.55H78.53V303.08H79.59V303.6H80.64V304.13H81.7V304.66H82.76V305.19H83.82V305.71H84.87V306.24H85.93V306.77H86.99V307.29H88.04V307.82H89.1V308.29H90.16V308.7H91.22V309.11H92.27V309.51H93.33V309.92H94.39V310.33H95.45V310.74H96.5V311.15H97.56V311.56H98.62V312.04H99.67V312.59H100.73V313.14H101.79V313.69H102.85V314.24H103.9V314.78H104.96V315.33H106.02V315.88H107.07V316.43H108.13V316.96H109.19V317.47H110.25V317.97H111.3V318.48H112.36V318.98H113.42V319.48H114.47V319.99H115.53V320.49H116.59V321H117.65V321.47H118.7V321.87H119.76V322.26H120.82V322.65H121.88V323.05H122.93V323.44H123.99V323.64H156.76V329.44H169.45V334.53H250.32" fill="none" stroke="#8c8c8c" stroke-width="1.45" stroke-dasharray="4.6 3"/>
<path d="M52.1,251.1H53.16V254.49H54.21V258.74H55.27V263.12H56.33V267.36H57.39V271.6H58.44V275.36H59.5V278.63H60.56V281.9H61.61V285.18H62.67V287.7H63.73V290.23H64.79V292.76H65.84V294.99H66.9V296.37H67.96V297.74H69.02V299.12H70.07V300.23H71.13V301.26H72.19V302.29H73.24V303.32H74.3V304.34H75.36V305.25H76.42V305.79H77.47V306.33H78.53V306.87H79.59V307.41H80.64V307.95H81.7V308.46H82.76V308.97H83.82V309.48H84.87V309.99H85.93V310.49H86.99V311H88.04V311.51H89.1V311.98H90.16V312.42H91.22V312.86H92.27V313.3H93.33V313.74H94.39V314.18H95.45V314.62H96.5V315.06H97.56V315.5H98.62V315.82H99.67V316.03H100.73V316.23H101.79V316.43H102.85V316.64H103.9V316.84H104.96V317.05H106.02V317.25H107.07V317.46H108.13V317.76H109.19V318.18H110.25V318.59H111.3V319H112.36V319.42H113.42V319.83H114.47V320.24H115.53V320.65H116.59V321.07H117.65V321.48H118.7V321.91H119.76V322.33H120.82V322.75H121.88V323.18H122.93V323.6H123.99V324.03H125.05V324.45H126.1V324.88H127.16V325.31H128.22V325.78H129.28V326.24H130.33V326.71H131.39V327.17H132.45V327.64H133.5V328.1H134.56V328.57H135.62V329.03H136.68V329.49H137.73V329.96H138.79V330.42H139.85V330.89H140.9V331.35H141.96V331.83H143.02V332.34H144.08V332.86H145.13V333.38H146.19V333.9H147.25V334.41H148.31V334.93H149.36V335.45H150.42V335.96H151.48V336.76H152.53V337.82H153.59V338.88H154.65V339.95H155.71V340.75H250.32" fill="none" stroke="#111" stroke-width="1.7"/>
<path d="M67.96,289.6V295.2M75.89,298.43V304.03M86.46,304.23V309.83M94.39,307.53V313.13M102.32,311.16V316.76M110.25,315.17V320.77M115.53,317.69V323.29M120.82,319.85V325.45M126.1,320.84V326.44M130.07,320.84V326.44M132.71,320.84V326.44M134.56,320.84V326.44M136.68,320.84V326.44M148.57,320.84V326.44M150.42,320.84V326.44M152.53,320.84V326.44M157.82,326.64V332.24M160.46,326.64V332.24M170.51,331.73V337.33M172.62,331.73V337.33M177.38,331.73V337.33M179.49,331.73V337.33M183.19,331.73V337.33M186.36,331.73V337.33M189.01,331.73V337.33M191.12,331.73V337.33M193.5,331.73V337.33M195.35,331.73V337.33M201.96,331.73V337.33M213.32,331.73V337.33" fill="none" stroke="#8c8c8c" stroke-width="1.35"/>
<path d="M67.96,294.94V300.54M75.89,302.72V308.32M81.17,305.41V311.01M86.46,307.95V313.55M91.75,310.28V315.88M99.67,313.23V318.83M104.96,314.25V319.85M110.25,315.79V321.39M118.18,318.89V324.49M123.46,321.01V326.61M128.75,323.21V328.81M134.03,325.53V331.13M139.32,327.85V333.45M144.6,330.32V335.92M156.5,337.95V343.55M166.81,337.95V343.55M169.18,337.95V343.55M176.32,337.95V343.55M187.69,337.95V343.55M203.81,337.95V343.55M205.39,337.95V343.55M212.53,337.95V343.55M215.97,337.95V343.55M221.78,337.95V343.55M228.65,337.95V343.55M238.17,337.95V343.55M241.07,337.95V343.55M249,337.95V343.55" fill="none" stroke="#111" stroke-width="1.35"/>
<path d="M164.1,253.6h15.6" stroke="#000" stroke-width="1.5"/>
<text x="186.5" y="256.5" font-size="8.2" fill="#000" stroke="#000" stroke-width="0.22" font-weight="bold" text-anchor="start">Related</text>
<path d="M164.2,263.6h12.5" stroke="#8c8c8c" stroke-width="1.5" stroke-dasharray="4.8 2.8"/>
<text x="186.5" y="266.5" font-size="8.2" fill="#8c8c8c" stroke="#8c8c8c" stroke-width="0.22" font-weight="bold" text-anchor="start">Unrelated</text>
<text x="1.7" y="421.9" font-size="8.0" fill="#000" stroke="#000" stroke-width="0.22" font-weight="bold" text-anchor="start">No. at risk</text>
<text x="40.3" y="431.9" font-size="8.0" fill="#000" stroke="#000" stroke-width="0.22" font-weight="bold" text-anchor="end">Related:</text>
<text x="52.1" y="432" font-size="6.5" fill="#000" stroke="#000" stroke-width="0.22" font-weight="bold" text-anchor="middle">116</text>
<text x="78.53" y="432" font-size="6.5" fill="#000" stroke="#000" stroke-width="0.22" font-weight="bold" text-anchor="middle">71</text>
<text x="104.96" y="432" font-size="6.5" fill="#000" stroke="#000" stroke-width="0.22" font-weight="bold" text-anchor="middle">56</text>
<text x="131.39" y="432" font-size="6.5" fill="#000" stroke="#000" stroke-width="0.22" font-weight="bold" text-anchor="middle">39</text>
<text x="157.82" y="432" font-size="6.5" fill="#000" stroke="#000" stroke-width="0.22" font-weight="bold" text-anchor="middle">21</text>
<text x="184.25" y="432" font-size="6.5" fill="#000" stroke="#000" stroke-width="0.22" font-weight="bold" text-anchor="middle">14</text>
<text x="210.68" y="432" font-size="6.5" fill="#000" stroke="#000" stroke-width="0.22" font-weight="bold" text-anchor="middle">10</text>
<text x="237.11" y="432" font-size="6.5" fill="#000" stroke="#000" stroke-width="0.22" font-weight="bold" text-anchor="middle">6</text>
<text x="40.3" y="441.35" font-size="8.0" fill="#8c8c8c" stroke="#8c8c8c" stroke-width="0.22" font-weight="bold" text-anchor="end">Unrelated:</text>
<text x="52.1" y="441.45" font-size="6.5" fill="#8c8c8c" stroke="#8c8c8c" stroke-width="0.22" font-weight="bold" text-anchor="middle">93</text>
<text x="78.53" y="441.45" font-size="6.5" fill="#8c8c8c" stroke="#8c8c8c" stroke-width="0.22" font-weight="bold" text-anchor="middle">54</text>
<text x="104.96" y="441.45" font-size="6.5" fill="#8c8c8c" stroke="#8c8c8c" stroke-width="0.22" font-weight="bold" text-anchor="middle">46</text>
<text x="131.39" y="441.45" font-size="6.5" fill="#8c8c8c" stroke="#8c8c8c" stroke-width="0.22" font-weight="bold" text-anchor="middle">37</text>
<text x="157.82" y="441.45" font-size="6.5" fill="#8c8c8c" stroke="#8c8c8c" stroke-width="0.22" font-weight="bold" text-anchor="middle">23</text>
<text x="184.25" y="441.45" font-size="6.5" fill="#8c8c8c" stroke="#8c8c8c" stroke-width="0.22" font-weight="bold" text-anchor="middle">8</text>
<text x="210.68" y="441.45" font-size="6.5" fill="#8c8c8c" stroke="#8c8c8c" stroke-width="0.22" font-weight="bold" text-anchor="middle">2</text>
<text x="237.11" y="441.45" font-size="6.5" fill="#8c8c8c" stroke="#8c8c8c" stroke-width="0.22" font-weight="bold" text-anchor="middle">1</text>
<path d="M320.5,245.2V396.6M316.2,392.5H518.42" fill="none" stroke="#111" stroke-width="1.3"/>
<path d="M316.2,392.5H320.5M316.2,364.22H320.5M316.2,335.94H320.5M316.2,307.66H320.5M316.2,279.38H320.5M316.2,251.1H320.5M346.89,392.5V396.6M373.28,392.5V396.6M399.67,392.5V396.6M426.06,392.5V396.6M452.45,392.5V396.6M478.84,392.5V396.6M505.23,392.5V396.6" fill="none" stroke="#111" stroke-width="1.3"/>
<text x="311.2" y="392.5" font-size="6.6" fill="#000" stroke="#000" stroke-width="0.22" font-weight="normal" text-anchor="middle" transform="rotate(-90 311.2 392.5)">0</text>
<text x="311.2" y="364.22" font-size="6.6" fill="#000" stroke="#000" stroke-width="0.22" font-weight="normal" text-anchor="middle" transform="rotate(-90 311.2 364.22)">20</text>
<text x="311.2" y="335.94" font-size="6.6" fill="#000" stroke="#000" stroke-width="0.22" font-weight="normal" text-anchor="middle" transform="rotate(-90 311.2 335.94)">40</text>
<text x="311.2" y="307.66" font-size="6.6" fill="#000" stroke="#000" stroke-width="0.22" font-weight="normal" text-anchor="middle" transform="rotate(-90 311.2 307.66)">60</text>
<text x="311.2" y="279.38" font-size="6.6" fill="#000" stroke="#000" stroke-width="0.22" font-weight="normal" text-anchor="middle" transform="rotate(-90 311.2 279.38)">80</text>
<text x="311.2" y="251.1" font-size="6.6" fill="#000" stroke="#000" stroke-width="0.22" font-weight="normal" text-anchor="middle" transform="rotate(-90 311.2 251.1)">100</text>
<text x="320.5" y="406.7" font-size="6.5" fill="#000" stroke="#000" stroke-width="0.22" font-weight="bold" text-anchor="middle">0</text>
<text x="346.89" y="406.7" font-size="6.5" fill="#000" stroke="#000" stroke-width="0.22" font-weight="bold" text-anchor="middle">1</text>
<text x="373.28" y="406.7" font-size="6.5" fill="#000" stroke="#000" stroke-width="0.22" font-weight="bold" text-anchor="middle">2</text>
<text x="399.67" y="406.7" font-size="6.5" fill="#000" stroke="#000" stroke-width="0.22" font-weight="bold" text-anchor="middle">3</text>
<text x="426.06" y="406.7" font-size="6.5" fill="#000" stroke="#000" stroke-width="0.22" font-weight="bold" text-anchor="middle">4</text>
<text x="452.45" y="406.7" font-size="6.5" fill="#000" stroke="#000" stroke-width="0.22" font-weight="bold" text-anchor="middle">5</text>
<text x="478.84" y="406.7" font-size="6.5" fill="#000" stroke="#000" stroke-width="0.22" font-weight="bold" text-anchor="middle">6</text>
<text x="505.23" y="406.7" font-size="6.5" fill="#000" stroke="#000" stroke-width="0.22" font-weight="bold" text-anchor="middle">7</text>
<text x="417.88" y="417.2" font-size="9.75" fill="#000" stroke="#000" stroke-width="0.22" font-weight="bold" text-anchor="middle">Years Post Transplantation</text>
<text x="299.4" y="322.3" font-size="9.8" fill="#000" stroke="#000" stroke-width="0.22" font-weight="bold" text-anchor="middle" transform="rotate(-90 299.4 322.3)">Overall Survival (%)</text>
<text x="268.7" y="244" font-size="10.6" fill="#000" stroke="#000" stroke-width="0.22" font-weight="bold" text-anchor="start">D</text>
<path d="M320.5,251.1H321.56V251.57H322.61V252.04H323.67V252.51H324.72V254.89H325.78V257.27H326.83V260.8H327.89V265.48H328.94V268.24H330V270.37H331.06V271.74H332.11V272.86H333.17V273.98H334.22V275.1H335.28V276.22H336.33V277.34H337.39V278.46H338.45V279.58H339.5V280.7H340.56V281.82H341.61V282.94H342.67V284.06H343.72V285.18H344.78V286.48H345.83V287.79H346.89V289.1H347.95V290.4H349V291.71H350.06V293.02H351.11V294.32H352.17V295.31H353.22V296.18H354.28V297.06H355.33V297.93H356.39V298.8H357.45V299.59H358.5V300.11H359.56V300.63H360.61V301.14H361.67V301.66H362.72V302.18H363.78V302.7H364.84V303.22H365.89V303.74H366.95V304.29H368V304.93H369.06V305.57H370.11V306.22H371.17V306.86H372.22V307.51H373.28V308.15H374.34V308.8H375.39V309.44H376.45V310.61H377.5V313.36H378.56V314.73H406V315.86H407.06V316.99H408.11V317.65H409.17V317.82H410.23V318H411.28V318.18H412.34V318.26H431.34V321.34H432.39V324.42H433.45V325.19H465.12V325.43H466.17V325.9H518.42" fill="none" stroke="#8c8c8c" stroke-width="1.45" stroke-dasharray="4.6 3"/>
<path d="M320.5,251.1H321.56V251.57H322.61V252.04H323.67V252.51H324.72V254.89H325.78V257.27H326.83V261.16H327.89V266.57H328.94V270.1H330V273H331.06V275.75H332.11V278.46H333.17V281.17H334.22V283.45H335.28V284.47H336.33V285.49H337.39V286.51H338.45V287.7H339.5V289.08H340.56V290.45H341.61V291.82H342.67V292.34H343.72V292.85H344.78V293.37H345.83V293.88H346.89V294.39H347.95V295.09H349V295.96H350.06V296.84H351.11V297.71H352.17V298.58H353.22V299.46H354.28V299.71H355.33V299.97H356.39V300.22H357.45V300.47H358.5V300.73H359.56V300.98H360.61V301.23H366.95V301.32H368V301.43H369.06V301.54H370.11V301.65H371.17V301.76H372.22V301.87H373.28V301.98H374.34V302.09H375.39V302.2H376.45V302.34H377.5V302.54H378.56V302.75H379.61V302.95H380.67V303.15H381.72V303.36H382.78V303.56H383.84V303.77H384.89V303.97H385.95V304.18H387V304.39H388.06V304.61H389.11V304.82H390.17V305.03H391.23V305.25H392.28V305.46H393.34V305.68H394.39V305.89H395.45V306.1H396.5V306.25H397.56V306.4H398.61V306.55H399.67V306.7H400.73V306.94H401.78V307.44H402.84V307.93H403.89V308.43H404.95V308.93H406V309.32H407.06V309.72H408.11V310.11H409.17V310.5H410.23V310.89H411.28V311.28H412.34V311.58H413.39V311.79H414.45V311.99H415.5V312.2H416.56V312.4H417.62V312.61H418.67V312.81H419.73V313.02H420.78V313.23H421.84V313.43H422.89V313.64H423.95V313.95H425V314.37H426.06V314.79H427.12V315.21H428.17V315.63H429.23V316.06H430.28V316.48H431.34V316.9H432.39V317.32H433.45V317.74H434.5V318.16H435.56V318.52H436.62V318.86H437.67V319.2H438.73V319.54H439.78V319.88H440.84V320.22H441.89V320.56H442.95V320.9H444.01V321.23H472.51V325.9H518.42" fill="none" stroke="#111" stroke-width="1.7"/>
<path d="M340.29,278.74V284.34M346.89,286.3V291.9M362.72,299.38V304.98M381.2,311.93V317.53M386.48,311.93V317.53M389.11,311.93V317.53M394.39,311.93V317.53M398.35,311.93V317.53M402.31,311.93V317.53M415.5,315.46V321.06M418.14,315.46V321.06M420.78,315.46V321.06M423.42,315.46V321.06M436.62,322.39V327.99M439.25,322.39V327.99M444.53,322.39V327.99M447.17,322.39V327.99M452.45,322.39V327.99M457.73,322.39V327.99M463.01,322.39V327.99M476.2,323.1V328.7M484.12,323.1V328.7" fill="none" stroke="#8c8c8c" stroke-width="1.35"/>
<path d="M346.89,291.59V297.19M360.08,298.31V303.91M370.64,298.91V304.51M375.92,299.46V305.06M381.2,300.46V306.06M386.48,301.49V307.09M389.11,302.02V307.62M394.39,303.09V308.69M399.67,303.9V309.5M410.23,308.09V313.69M415.5,309.4V315M420.78,310.43V316.03M426.06,311.99V317.59M428.7,313.04V318.64M433.98,315.15V320.75M439.25,316.91V322.51M447.17,318.43V324.03M449.81,318.43V324.03M457.73,318.43V324.03M470.92,318.43V324.03M481.48,323.1V328.7M486.76,323.1V328.7M492.03,323.1V328.7M499.95,323.1V328.7M505.23,323.1V328.7M513.15,323.1V328.7" fill="none" stroke="#111" stroke-width="1.35"/>
<path d="M432.5,253.6h15.6" stroke="#000" stroke-width="1.5"/>
<text x="454.9" y="256.5" font-size="8.2" fill="#000" stroke="#000" stroke-width="0.22" font-weight="bold" text-anchor="start">Related</text>
<path d="M432.6,263.6h12.5" stroke="#8c8c8c" stroke-width="1.5" stroke-dasharray="4.8 2.8"/>
<text x="454.9" y="266.5" font-size="8.2" fill="#8c8c8c" stroke="#8c8c8c" stroke-width="0.22" font-weight="bold" text-anchor="start">Unrelated</text>
<text x="270.1" y="421.9" font-size="8.0" fill="#000" stroke="#000" stroke-width="0.22" font-weight="bold" text-anchor="start">No. at risk</text>
<text x="308.7" y="431.9" font-size="8.0" fill="#000" stroke="#000" stroke-width="0.22" font-weight="bold" text-anchor="end">Related:</text>
<text x="320.5" y="432" font-size="6.5" fill="#000" stroke="#000" stroke-width="0.22" font-weight="bold" text-anchor="middle">116</text>
<text x="346.89" y="432" font-size="6.5" fill="#000" stroke="#000" stroke-width="0.22" font-weight="bold" text-anchor="middle">80</text>
<text x="373.28" y="432" font-size="6.5" fill="#000" stroke="#000" stroke-width="0.22" font-weight="bold" text-anchor="middle">67</text>
<text x="399.67" y="432" font-size="6.5" fill="#000" stroke="#000" stroke-width="0.22" font-weight="bold" text-anchor="middle">53</text>
<text x="426.06" y="432" font-size="6.5" fill="#000" stroke="#000" stroke-width="0.22" font-weight="bold" text-anchor="middle">35</text>
<text x="452.45" y="432" font-size="6.5" fill="#000" stroke="#000" stroke-width="0.22" font-weight="bold" text-anchor="middle">23</text>
<text x="478.84" y="432" font-size="6.5" fill="#000" stroke="#000" stroke-width="0.22" font-weight="bold" text-anchor="middle">14</text>
<text x="505.23" y="432" font-size="6.5" fill="#000" stroke="#000" stroke-width="0.22" font-weight="bold" text-anchor="middle">7</text>
<text x="308.7" y="441.35" font-size="8.0" fill="#8c8c8c" stroke="#8c8c8c" stroke-width="0.22" font-weight="bold" text-anchor="end">Unrelated:</text>
<text x="320.5" y="441.45" font-size="6.5" fill="#8c8c8c" stroke="#8c8c8c" stroke-width="0.22" font-weight="bold" text-anchor="middle">93</text>
<text x="346.89" y="441.45" font-size="6.5" fill="#8c8c8c" stroke="#8c8c8c" stroke-width="0.22" font-weight="bold" text-anchor="middle">63</text>
<text x="373.28" y="441.45" font-size="6.5" fill="#8c8c8c" stroke="#8c8c8c" stroke-width="0.22" font-weight="bold" text-anchor="middle">51</text>
<text x="399.67" y="441.45" font-size="6.5" fill="#8c8c8c" stroke="#8c8c8c" stroke-width="0.22" font-weight="bold" text-anchor="middle">40</text>
<text x="426.06" y="441.45" font-size="6.5" fill="#8c8c8c" stroke="#8c8c8c" stroke-width="0.22" font-weight="bold" text-anchor="middle">26</text>
<text x="452.45" y="441.45" font-size="6.5" fill="#8c8c8c" stroke="#8c8c8c" stroke-width="0.22" font-weight="bold" text-anchor="middle">10</text>
<text x="478.84" y="441.45" font-size="6.5" fill="#8c8c8c" stroke="#8c8c8c" stroke-width="0.22" font-weight="bold" text-anchor="middle">4</text>
<text x="505.23" y="441.45" font-size="6.5" fill="#8c8c8c" stroke="#8c8c8c" stroke-width="0.22" font-weight="bold" text-anchor="middle">1</text>
<path d="M52.1,468.8V620.2M47.8,616.1H250.32" fill="none" stroke="#111" stroke-width="1.3"/>
<path d="M47.8,616.1H52.1M47.8,587.82H52.1M47.8,559.54H52.1M47.8,531.26H52.1M47.8,502.98H52.1M47.8,474.7H52.1M78.53,616.1V620.2M104.96,616.1V620.2M131.39,616.1V620.2M157.82,616.1V620.2M184.25,616.1V620.2M210.68,616.1V620.2M237.11,616.1V620.2" fill="none" stroke="#111" stroke-width="1.3"/>
<text x="42.8" y="616.1" font-size="6.6" fill="#000" stroke="#000" stroke-width="0.22" font-weight="normal" text-anchor="middle" transform="rotate(-90 42.8 616.1)">0</text>
<text x="42.8" y="587.82" font-size="6.6" fill="#000" stroke="#000" stroke-width="0.22" font-weight="normal" text-anchor="middle" transform="rotate(-90 42.8 587.82)">20</text>
<text x="42.8" y="559.54" font-size="6.6" fill="#000" stroke="#000" stroke-width="0.22" font-weight="normal" text-anchor="middle" transform="rotate(-90 42.8 559.54)">40</text>
<text x="42.8" y="531.26" font-size="6.6" fill="#000" stroke="#000" stroke-width="0.22" font-weight="normal" text-anchor="middle" transform="rotate(-90 42.8 531.26)">60</text>
<text x="42.8" y="502.98" font-size="6.6" fill="#000" stroke="#000" stroke-width="0.22" font-weight="normal" text-anchor="middle" transform="rotate(-90 42.8 502.98)">80</text>
<text x="42.8" y="474.7" font-size="6.6" fill="#000" stroke="#000" stroke-width="0.22" font-weight="normal" text-anchor="middle" transform="rotate(-90 42.8 474.7)">100</text>
<text x="52.1" y="630.3" font-size="6.5" fill="#000" stroke="#000" stroke-width="0.22" font-weight="bold" text-anchor="middle">0</text>
<text x="78.53" y="630.3" font-size="6.5" fill="#000" stroke="#000" stroke-width="0.22" font-weight="bold" text-anchor="middle">1</text>
<text x="104.96" y="630.3" font-size="6.5" fill="#000" stroke="#000" stroke-width="0.22" font-weight="bold" text-anchor="middle">2</text>
<text x="131.39" y="630.3" font-size="6.5" fill="#000" stroke="#000" stroke-width="0.22" font-weight="bold" text-anchor="middle">3</text>
<text x="157.82" y="630.3" font-size="6.5" fill="#000" stroke="#000" stroke-width="0.22" font-weight="bold" text-anchor="middle">4</text>
<text x="184.25" y="630.3" font-size="6.5" fill="#000" stroke="#000" stroke-width="0.22" font-weight="bold" text-anchor="middle">5</text>
<text x="210.68" y="630.3" font-size="6.5" fill="#000" stroke="#000" stroke-width="0.22" font-weight="bold" text-anchor="middle">6</text>
<text x="237.11" y="630.3" font-size="6.5" fill="#000" stroke="#000" stroke-width="0.22" font-weight="bold" text-anchor="middle">7</text>
<text x="149.63" y="640.8" font-size="9.75" fill="#000" stroke="#000" stroke-width="0.22" font-weight="bold" text-anchor="middle">Years Post Transplantation</text>
<text x="21.4" y="546.9" font-size="9.75" fill="#000" stroke="#000" stroke-width="0.22" font-weight="bold" text-anchor="middle" transform="rotate(-90 21.4 546.9)">cGVHD−Free,</text>
<text x="31" y="546.9" font-size="9.75" fill="#000" stroke="#000" stroke-width="0.22" font-weight="bold" text-anchor="middle" transform="rotate(-90 31 546.9)">Disease−Free Survival (%)</text>
<text x="2.1" y="468" font-size="10.6" fill="#000" stroke="#000" stroke-width="0.22" font-weight="bold" text-anchor="start">E</text>
<path d="M52.1,474.7H53.69V477.25H55.27V482.22H56.86V492.05H58.44V499.42H60.03V501.91H61.61V504.39H63.2V507.5H64.79V510.62H66.37V513.84H67.96V517.17H69.54V520.59H71.13V524.44H72.72V528.28H74.3V531.77H75.89V535.08H77.47V538.4H79.06V542.15H80.64V543.14H104.43V544.23H106.02V547.14H107.6V548.22H109.19V549.29H110.77V550.37H112.36V551.18H113.95V551.72H115.53V552.26H117.12V552.8H118.7V553.17H120.29V553.5H121.88V553.83H123.46V554.16H125.05V554.49H126.63V554.82H128.22V555.14H129.8V555.46H131.39V555.78H132.98V556.1H134.56V556.43H136.15V556.75H137.73V557.06H139.32V557.36H140.9V557.67H142.49V557.98H144.08V558.28H145.66V558.59H147.25V559.29H148.83V560.19H150.42V561.09H152.01V561.99H153.59V562.88H155.18V563.78H156.76V564.38H158.35V564.77H250.32" fill="none" stroke="#b39a4c" stroke-width="1.45" stroke-dasharray="4.5 2.4 2.4 2.4"/>
<path d="M52.1,474.7H54.74V479.79H56.06V484.74H57.39V489.83H57.91V494.92H58.71V499.59H70.6V504.96H79.32V510.05H79.85V515.14H80.38V520.09H80.64V525.18H80.91V531.26H101V536.35H127.43V541.3H128.75V545.4H131.39V548.51H139.32V553.88H140.64V558.97H155.18V564.06H157.82V568.02H197.47" fill="none" stroke="#2222c0" stroke-width="1.45" stroke-dasharray="1.7 3.1"/>
<path d="M52.1,474.7H53.16V478.09H54.21V483.18H55.27V488.77H56.33V494.27H57.39V499.78H58.44V505.29H59.5V510.79H60.56V514.89H61.61V518.51H62.67V522.13H63.73V525.75H64.79V527.95H65.84V530.16H66.9V532.37H67.96V534.58H69.02V536.79H70.07V538.4H71.13V539.81H72.19V541.23H73.24V542.64H74.3V544.06H75.36V545.3H76.42V546.02H77.47V546.74H78.53V547.46H79.59V548.18H80.64V548.9H81.7V549.35H82.76V549.72H83.82V550.1H84.87V550.47H85.93V550.84H86.99V551.21H88.04V551.58H89.1V552.03H90.16V552.56H91.22V553.1H92.27V553.63H93.33V554.17H94.39V554.7H95.45V555.24H96.5V555.77H97.56V556.3H98.62V556.68H99.67V556.9H100.73V557.12H101.79V557.34H102.85V557.56H103.9V557.78H104.96V558H106.02V558.22H107.07V558.44H108.13V558.66H109.19V558.88H110.25V559.09H111.3V559.31H112.36V559.53H113.42V559.74H114.47V559.96H115.53V560.18H116.59V560.39H117.65V560.61H118.7V560.83H119.76V561.05H120.82V561.26H121.88V561.48H122.93V561.7H123.99V561.91H125.05V562.13H126.1V562.35H127.16V562.55H128.22V562.71H129.28V562.88H130.33V563.04H131.39V563.2H132.45V563.36H133.5V563.53H134.56V563.69H135.62V563.85H136.68V564.01H137.73V564.18H138.79V564.34H139.85V564.5H140.9V564.67H141.96V564.83H143.02V564.99H144.08V565.15H145.13V565.32H146.19V565.48H147.25V565.77H148.31V566.07H149.36V566.37H150.42V566.66H151.48V566.96H152.53V567.25H153.59V567.55H154.65V567.84H155.71V568.14H156.76V568.44H157.82V568.73H158.88V569.1H159.93V569.47H160.99V569.83H162.05V570.2H163.11V570.57H250.32" fill="none" stroke="#bd1f2b" stroke-width="1.45" stroke-dasharray="5.2 2.4"/>
<path d="M52.1,474.7H52.89V477.25H53.69V480.07H54.48V483.47H55.27V486.6H56.06V489.61H56.86V492.61H57.65V495.62H58.44V499.4H59.24V503.59H60.03V507.77H60.82V511.95H61.61V516.13H62.41V518.05H63.2V519.98H63.99V521.9H64.79V523.82H65.58V525.75H66.37V526.96H67.17V528.17H67.96V529.38H68.75V530.59H69.54V531.75H70.34V532.82H71.13V533.88H71.92V534.94H72.72V536H73.51V537.06H74.3V538.12H75.09V539.18H75.89V540.03H76.68V540.88H77.47V541.72H78.27V542.57H79.06V543.22H79.85V543.46H80.64V543.7H81.44V543.94H82.23V544.18H83.02V544.42H83.82V544.66H84.61V544.9H85.4V545.14H86.19V545.38H86.99V545.63H87.78V545.87H88.57V546.11H89.37V546.51H90.16V546.91H90.95V547.31H91.75V547.71H92.54V548.11H93.33V548.51H94.12V548.91H94.92V549.31H95.71V549.71H96.5V550.11H97.3V550.51H98.09V550.91H98.88V551.15H99.67V551.39H100.47V551.62H101.26V551.86H102.05V552.09H102.85V552.33H103.64V552.56H104.43V552.8H105.22V553.04H106.02V553.27H106.81V553.51H107.6V553.74H108.4V553.9H109.19V554.06H109.98V554.22H110.77V554.38H111.57V554.55H112.36V554.71H113.15V554.87H113.95V555.03H114.74V555.19H115.53V555.35H116.32V555.51H117.12V555.67H117.91V555.89H118.7V556.13H119.5V556.38H120.29V556.63H121.08V556.88H121.88V557.12H122.67V557.37H123.46V557.62H124.25V557.87H125.05V558.11H125.84V558.36H126.63V558.61H127.43V558.8H128.22V558.96H129.01V559.12H129.8V559.28H130.6V559.44H131.39V559.6H132.18V559.76H132.98V559.92H133.77V560.08H134.56V560.24H135.35V560.4H136.15V560.56H136.94V560.72H137.73V560.88H138.53V561.03H139.32V561.18H140.11V561.33H140.9V561.49H141.7V561.64H142.49V561.79H143.28V561.95H144.08V562.1H144.87V562.25H145.66V562.41H146.46V562.62H147.25V562.95H148.04V563.27H148.83V563.6H149.63V563.93H150.42V564.26H151.21V564.59H152.01V564.91H152.8V565.24H153.59V565.57H154.38V565.9H155.18V566.22H155.97V566.55H156.76V566.88H157.56V567.21H158.35V567.4H159.14V567.53H159.93V567.66H160.73V567.78H161.52V567.91H162.31V568.04H163.11V568.17H250.32" fill="none" stroke="#111" stroke-width="1.75"/>
<path d="M77.21,543.76V549.36M81.17,546.37V551.97M86.46,548.22V553.82M99.67,554.1V559.7M107.6,555.75V561.35M112.89,556.83V562.43M120.82,558.46V564.06M128.75,559.99V565.59M134.03,560.81V566.41M139.32,561.62V567.22M144.6,562.43V568.03M149.89,563.71V569.31M155.18,565.19V570.79M160.46,566.85V572.45M165.75,567.77V573.37M171.03,567.77V573.37M176.32,567.77V573.37M181.61,567.77V573.37M186.89,567.77V573.37M192.18,567.77V573.37M200.11,567.77V573.37M208.04,567.77V573.37M215.97,567.77V573.37M223.89,567.77V573.37M231.82,567.77V573.37M242.4,567.77V573.37" fill="none" stroke="#bd1f2b" stroke-width="1.35"/>
<path d="M91.75,540.34V545.94M102.32,540.34V545.94M115.53,549.46V555.06M126.1,551.91V557.51M136.68,554.05V559.65M165.75,561.97V567.57M173.68,561.97V567.57M184.25,561.97V567.57M194.82,561.97V567.57M213.32,561.97V567.57M226.54,561.97V567.57M245.04,561.97V567.57" fill="none" stroke="#b39a4c" stroke-width="1.35"/>
<path d="M70.6,502.16V507.76M126.1,533.55V539.15M132.71,545.71V551.31M134.03,545.71V551.31M155.18,561.26V566.86M171.03,565.22V570.82M181.61,565.22V570.82" fill="none" stroke="#2222c0" stroke-width="1.35"/>
<path d="M66.64,524.56V530.16M70.6,530.37V535.97M77.21,538.64V544.24M81.17,541.06V546.66M86.46,542.66V548.26M91.75,544.91V550.51M97.03,547.58V553.18M102.32,549.37V554.97M107.6,550.94V556.54M112.89,552.01V557.61M118.18,553.17V558.77M123.46,554.82V560.42M128.75,556.27V561.87M134.03,557.34V562.94M139.32,558.38V563.98M144.6,559.4V565M149.89,561.24V566.84M155.18,563.42V569.02M160.46,564.94V570.54M165.75,565.37V570.97M171.03,565.37V570.97M178.96,565.37V570.97M186.89,565.37V570.97M194.82,565.37V570.97M202.75,565.37V570.97M210.68,565.37V570.97M218.61,565.37V570.97M226.54,565.37V570.97M234.47,565.37V570.97M242.4,565.37V570.97" fill="none" stroke="#111" stroke-width="1.35"/>
<path d="M164.1,476.9h15.6" stroke="#000" stroke-width="1.5"/>
<text x="186.5" y="479.8" font-size="8.2" fill="#000" stroke="#000" stroke-width="0.22" font-weight="bold" text-anchor="start">Entire Cohort</text>
<path d="M163.9,486.5h12.7" stroke="#bd1f2b" stroke-width="1.5" stroke-dasharray="5.3 2.1"/>
<text x="186.5" y="489.4" font-size="8.2" fill="#bd1f2b" stroke="#bd1f2b" stroke-width="0.22" font-weight="bold" text-anchor="start">AML</text>
<path d="M164.4,496.1h12.1" stroke="#2222c0" stroke-width="1.5" stroke-dasharray="2.1 2.7"/>
<text x="186.5" y="499" font-size="8.2" fill="#2222c0" stroke="#2222c0" stroke-width="0.22" font-weight="bold" text-anchor="start">MDS</text>
<path d="M163.9,505.7h15.6" stroke="#b39a4c" stroke-width="1.5" stroke-dasharray="5 2.3 2.9 2.3 3.1 9"/>
<text x="186.5" y="508.6" font-size="8.2" fill="#b39a4c" stroke="#b39a4c" stroke-width="0.22" font-weight="bold" text-anchor="start">ALL</text>
<text x="1.7" y="645.5" font-size="8.0" fill="#000" stroke="#000" stroke-width="0.22" font-weight="bold" text-anchor="start">No. at risk</text>
<text x="40.3" y="655.5" font-size="8.0" fill="#000" stroke="#000" stroke-width="0.22" font-weight="bold" text-anchor="end">All Pts:</text>
<text x="52.1" y="655.6" font-size="6.5" fill="#000" stroke="#000" stroke-width="0.22" font-weight="bold" text-anchor="middle">209</text>
<text x="78.53" y="655.6" font-size="6.5" fill="#000" stroke="#000" stroke-width="0.22" font-weight="bold" text-anchor="middle">107</text>
<text x="104.96" y="655.6" font-size="6.5" fill="#000" stroke="#000" stroke-width="0.22" font-weight="bold" text-anchor="middle">85</text>
<text x="131.39" y="655.6" font-size="6.5" fill="#000" stroke="#000" stroke-width="0.22" font-weight="bold" text-anchor="middle">63</text>
<text x="157.82" y="655.6" font-size="6.5" fill="#000" stroke="#000" stroke-width="0.22" font-weight="bold" text-anchor="middle">41</text>
<text x="184.25" y="655.6" font-size="6.5" fill="#000" stroke="#000" stroke-width="0.22" font-weight="bold" text-anchor="middle">21</text>
<text x="210.68" y="655.6" font-size="6.5" fill="#000" stroke="#000" stroke-width="0.22" font-weight="bold" text-anchor="middle">11</text>
<text x="237.11" y="655.6" font-size="6.5" fill="#000" stroke="#000" stroke-width="0.22" font-weight="bold" text-anchor="middle">6</text>
<text x="40.3" y="664.95" font-size="8.0" fill="#bd1f2b" stroke="#bd1f2b" stroke-width="0.22" font-weight="bold" text-anchor="end">AML:</text>
<text x="52.1" y="665.05" font-size="6.5" fill="#bd1f2b" stroke="#bd1f2b" stroke-width="0.22" font-weight="bold" text-anchor="middle">138</text>
<text x="78.53" y="665.05" font-size="6.5" fill="#bd1f2b" stroke="#bd1f2b" stroke-width="0.22" font-weight="bold" text-anchor="middle">65</text>
<text x="104.96" y="665.05" font-size="6.5" fill="#bd1f2b" stroke="#bd1f2b" stroke-width="0.22" font-weight="bold" text-anchor="middle">50</text>
<text x="131.39" y="665.05" font-size="6.5" fill="#bd1f2b" stroke="#bd1f2b" stroke-width="0.22" font-weight="bold" text-anchor="middle">40</text>
<text x="157.82" y="665.05" font-size="6.5" fill="#bd1f2b" stroke="#bd1f2b" stroke-width="0.22" font-weight="bold" text-anchor="middle">27</text>
<text x="184.25" y="665.05" font-size="6.5" fill="#bd1f2b" stroke="#bd1f2b" stroke-width="0.22" font-weight="bold" text-anchor="middle">14</text>
<text x="210.68" y="665.05" font-size="6.5" fill="#bd1f2b" stroke="#bd1f2b" stroke-width="0.22" font-weight="bold" text-anchor="middle">8</text>
<text x="237.11" y="665.05" font-size="6.5" fill="#bd1f2b" stroke="#bd1f2b" stroke-width="0.22" font-weight="bold" text-anchor="middle">4</text>
<text x="40.3" y="674.4" font-size="8.0" fill="#2222c0" stroke="#2222c0" stroke-width="0.22" font-weight="bold" text-anchor="end">MDS:</text>
<text x="52.1" y="674.5" font-size="6.5" fill="#2222c0" stroke="#2222c0" stroke-width="0.22" font-weight="bold" text-anchor="middle">28</text>
<text x="78.53" y="674.5" font-size="6.5" fill="#2222c0" stroke="#2222c0" stroke-width="0.22" font-weight="bold" text-anchor="middle">19</text>
<text x="104.96" y="674.5" font-size="6.5" fill="#2222c0" stroke="#2222c0" stroke-width="0.22" font-weight="bold" text-anchor="middle">14</text>
<text x="131.39" y="674.5" font-size="6.5" fill="#2222c0" stroke="#2222c0" stroke-width="0.22" font-weight="bold" text-anchor="middle">11</text>
<text x="157.82" y="674.5" font-size="6.5" fill="#2222c0" stroke="#2222c0" stroke-width="0.22" font-weight="bold" text-anchor="middle">5</text>
<text x="184.25" y="674.5" font-size="6.5" fill="#2222c0" stroke="#2222c0" stroke-width="0.22" font-weight="bold" text-anchor="middle">1</text>
<text x="210.68" y="674.5" font-size="6.5" fill="#2222c0" stroke="#2222c0" stroke-width="0.22" font-weight="bold" text-anchor="middle">0</text>
<text x="237.11" y="674.5" font-size="6.5" fill="#2222c0" stroke="#2222c0" stroke-width="0.22" font-weight="bold" text-anchor="middle">0</text>
<text x="40.3" y="683.85" font-size="8.0" fill="#b39a4c" stroke="#b39a4c" stroke-width="0.22" font-weight="bold" text-anchor="end">ALL:</text>
<text x="52.1" y="683.95" font-size="6.5" fill="#b39a4c" stroke="#b39a4c" stroke-width="0.22" font-weight="bold" text-anchor="middle">43</text>
<text x="78.53" y="683.95" font-size="6.5" fill="#b39a4c" stroke="#b39a4c" stroke-width="0.22" font-weight="bold" text-anchor="middle">23</text>
<text x="104.96" y="683.95" font-size="6.5" fill="#b39a4c" stroke="#b39a4c" stroke-width="0.22" font-weight="bold" text-anchor="middle">21</text>
<text x="131.39" y="683.95" font-size="6.5" fill="#b39a4c" stroke="#b39a4c" stroke-width="0.22" font-weight="bold" text-anchor="middle">12</text>
<text x="157.82" y="683.95" font-size="6.5" fill="#b39a4c" stroke="#b39a4c" stroke-width="0.22" font-weight="bold" text-anchor="middle">9</text>
<text x="184.25" y="683.95" font-size="6.5" fill="#b39a4c" stroke="#b39a4c" stroke-width="0.22" font-weight="bold" text-anchor="middle">6</text>
<text x="210.68" y="683.95" font-size="6.5" fill="#b39a4c" stroke="#b39a4c" stroke-width="0.22" font-weight="bold" text-anchor="middle">3</text>
<text x="237.11" y="683.95" font-size="6.5" fill="#b39a4c" stroke="#b39a4c" stroke-width="0.22" font-weight="bold" text-anchor="middle">2</text>
<path d="M320.5,468.8V620.2M316.2,616.1H518.42" fill="none" stroke="#111" stroke-width="1.3"/>
<path d="M316.2,616.1H320.5M316.2,587.82H320.5M316.2,559.54H320.5M316.2,531.26H320.5M316.2,502.98H320.5M316.2,474.7H320.5M346.89,616.1V620.2M373.28,616.1V620.2M399.67,616.1V620.2M426.06,616.1V620.2M452.45,616.1V620.2M478.84,616.1V620.2M505.23,616.1V620.2" fill="none" stroke="#111" stroke-width="1.3"/>
<text x="311.2" y="616.1" font-size="6.6" fill="#000" stroke="#000" stroke-width="0.22" font-weight="normal" text-anchor="middle" transform="rotate(-90 311.2 616.1)">0</text>
<text x="311.2" y="587.82" font-size="6.6" fill="#000" stroke="#000" stroke-width="0.22" font-weight="normal" text-anchor="middle" transform="rotate(-90 311.2 587.82)">20</text>
<text x="311.2" y="559.54" font-size="6.6" fill="#000" stroke="#000" stroke-width="0.22" font-weight="normal" text-anchor="middle" transform="rotate(-90 311.2 559.54)">40</text>
<text x="311.2" y="531.26" font-size="6.6" fill="#000" stroke="#000" stroke-width="0.22" font-weight="normal" text-anchor="middle" transform="rotate(-90 311.2 531.26)">60</text>
<text x="311.2" y="502.98" font-size="6.6" fill="#000" stroke="#000" stroke-width="0.22" font-weight="normal" text-anchor="middle" transform="rotate(-90 311.2 502.98)">80</text>
<text x="311.2" y="474.7" font-size="6.6" fill="#000" stroke="#000" stroke-width="0.22" font-weight="normal" text-anchor="middle" transform="rotate(-90 311.2 474.7)">100</text>
<text x="320.5" y="630.3" font-size="6.5" fill="#000" stroke="#000" stroke-width="0.22" font-weight="bold" text-anchor="middle">0</text>
<text x="346.89" y="630.3" font-size="6.5" fill="#000" stroke="#000" stroke-width="0.22" font-weight="bold" text-anchor="middle">1</text>
<text x="373.28" y="630.3" font-size="6.5" fill="#000" stroke="#000" stroke-width="0.22" font-weight="bold" text-anchor="middle">2</text>
<text x="399.67" y="630.3" font-size="6.5" fill="#000" stroke="#000" stroke-width="0.22" font-weight="bold" text-anchor="middle">3</text>
<text x="426.06" y="630.3" font-size="6.5" fill="#000" stroke="#000" stroke-width="0.22" font-weight="bold" text-anchor="middle">4</text>
<text x="452.45" y="630.3" font-size="6.5" fill="#000" stroke="#000" stroke-width="0.22" font-weight="bold" text-anchor="middle">5</text>
<text x="478.84" y="630.3" font-size="6.5" fill="#000" stroke="#000" stroke-width="0.22" font-weight="bold" text-anchor="middle">6</text>
<text x="505.23" y="630.3" font-size="6.5" fill="#000" stroke="#000" stroke-width="0.22" font-weight="bold" text-anchor="middle">7</text>
<text x="417.88" y="640.8" font-size="9.75" fill="#000" stroke="#000" stroke-width="0.22" font-weight="bold" text-anchor="middle">Years Post Transplantation</text>
<text x="289.8" y="546.9" font-size="9.75" fill="#000" stroke="#000" stroke-width="0.22" font-weight="bold" text-anchor="middle" transform="rotate(-90 289.8 546.9)">cGVHD−Free,</text>
<text x="299.4" y="546.9" font-size="9.75" fill="#000" stroke="#000" stroke-width="0.22" font-weight="bold" text-anchor="middle" transform="rotate(-90 299.4 546.9)">Disease−Free Survival (%)</text>
<text x="268.7" y="469" font-size="10.6" fill="#000" stroke="#000" stroke-width="0.22" font-weight="bold" text-anchor="start">F</text>
<path d="M320.5,474.7H321.29V478.52H321.82V482.34H322.08V486.15H322.61V489.97H322.88V493.79H323.14V497.61H323.67V501.42H323.93V505.24H324.19V509.06H324.72V512.88H324.99V516.7H325.25V520.51H325.78V524.33H326.31V528.15H327.1V531.97H328.42V535.78H329.47V539.6H330.53V543.42H332.38V547.38H333.69V551.2H335.01V555.02H336.33V562.37H353.49V566.04H368V570H384.36V574.25H394.92V578.06H419.46V582.59H420.78V586.97H510.51" fill="none" stroke="#bd1f2b" stroke-width="1.4" stroke-dasharray="1.8 2.2"/>
<path d="M320.5,474.7H323.67V477.12H324.72V481.97H325.78V487.06H326.83V492.23H327.89V498.17H328.94V504.11H330V509.65H331.06V514.8H332.11V519.95H333.17V524.31H334.22V527.78H335.28V528.57H336.33V529.37H337.39V530.16H338.45V531.52H339.5V533.45H340.56V535.37H341.61V537.3H342.67V539.23H343.72V541.16H344.78V541.89H345.83V542.61H346.89V543.34H347.95V544.07H349V544.79H350.06V545.07H351.11V545.21H352.17V545.34H353.22V545.47H354.28V545.6H355.33V545.73H356.39V545.87H357.45V546.16H358.5V546.94H359.56V547.72H360.61V548.5H361.67V549.28H362.72V550.06H363.78V550.84H364.84V551.62H365.89V551.99H366.95V552.36H368V552.73H369.06V553.09H370.11V553.46H371.17V553.83H372.22V554.2H373.28V554.57H374.34V554.94H375.39V555.3H376.45V555.69H377.5V556.11H378.56V556.54H379.61V556.96H380.67V557.38H381.72V557.81H382.78V558.23H383.84V558.66H384.89V559.08H385.95V559.73H387V560.39H437.67V562.65H438.73V563.78H518.42" fill="none" stroke="#bd1f2b" stroke-width="1.75"/>
<path d="M384.1,567.2V572.8M424.21,584.17V589.77M439.25,584.17V589.77M455.35,584.17V589.77M490.19,584.17V589.77M506.29,584.17V589.77M508.4,584.17V589.77" fill="none" stroke="#bd1f2b" stroke-width="1.35"/>
<path d="M344.25,538.72V544.32M345.57,539.63V545.23M346.89,540.54V546.14M350.85,542.37V547.97M355.33,542.93V548.53M366.95,549.56V555.16M375.13,552.41V558.01M375.92,552.69V558.29M378.56,553.74V559.34M399.14,557.59V563.19M403.89,557.59V563.19M406.27,557.59V563.19M412.07,557.59V563.19M417.62,557.59V563.19M422.37,557.59V563.19M426.85,557.59V563.19M430.55,557.59V563.19M433.98,557.59V563.19M445.06,560.98V566.58M446.12,560.98V566.58M455.35,560.98V566.58M462.21,560.98V566.58M470.4,560.98V566.58M480.69,560.98V566.58M482.01,560.98V566.58M506.29,560.98V566.58M517.63,560.98V566.58" fill="none" stroke="#bd1f2b" stroke-width="1.35"/>
<path d="M431.9,476.9h16.2" stroke="#bd1f2b" stroke-width="1.5"/>
<text x="454.6" y="479.8" font-size="8.2" fill="#bd1f2b" stroke="#bd1f2b" stroke-width="0.22" font-weight="bold" text-anchor="start">Morphologic CR</text>
<path d="M432.4,486.2h12.8" stroke="#bd1f2b" stroke-width="1.5" stroke-dasharray="2.8 2.2"/>
<text x="454.6" y="489.1" font-size="8.2" fill="#bd1f2b" stroke="#bd1f2b" stroke-width="0.22" font-weight="bold" text-anchor="start">Not in CR</text>
<text x="270.1" y="645.5" font-size="8.0" fill="#000" stroke="#000" stroke-width="0.22" font-weight="bold" text-anchor="start">No. at risk</text>
<text x="308.7" y="654.7" font-size="8.0" fill="#bd1f2b" stroke="#bd1f2b" stroke-width="0.22" font-weight="bold" text-anchor="end">CR:</text>
<text x="320.5" y="654.8" font-size="6.5" fill="#bd1f2b" stroke="#bd1f2b" stroke-width="0.22" font-weight="bold" text-anchor="middle">101</text>
<text x="346.89" y="654.8" font-size="6.5" fill="#bd1f2b" stroke="#bd1f2b" stroke-width="0.22" font-weight="bold" text-anchor="middle">51</text>
<text x="373.28" y="654.8" font-size="6.5" fill="#bd1f2b" stroke="#bd1f2b" stroke-width="0.22" font-weight="bold" text-anchor="middle">38</text>
<text x="399.67" y="654.8" font-size="6.5" fill="#bd1f2b" stroke="#bd1f2b" stroke-width="0.22" font-weight="bold" text-anchor="middle">31</text>
<text x="426.06" y="654.8" font-size="6.5" fill="#bd1f2b" stroke="#bd1f2b" stroke-width="0.22" font-weight="bold" text-anchor="middle">21</text>
<text x="452.45" y="654.8" font-size="6.5" fill="#bd1f2b" stroke="#bd1f2b" stroke-width="0.22" font-weight="bold" text-anchor="middle">10</text>
<text x="478.84" y="654.8" font-size="6.5" fill="#bd1f2b" stroke="#bd1f2b" stroke-width="0.22" font-weight="bold" text-anchor="middle">5</text>
<text x="505.23" y="654.8" font-size="6.5" fill="#bd1f2b" stroke="#bd1f2b" stroke-width="0.22" font-weight="bold" text-anchor="middle">2</text>
<text x="308.7" y="663.45" font-size="8.0" fill="#bd1f2b" stroke="#bd1f2b" stroke-width="0.22" font-weight="bold" text-anchor="end">Not in CR:</text>
<text x="320.5" y="663.55" font-size="6.5" fill="#bd1f2b" stroke="#bd1f2b" stroke-width="0.22" font-weight="bold" text-anchor="middle">37</text>
<text x="346.89" y="663.55" font-size="6.5" fill="#bd1f2b" stroke="#bd1f2b" stroke-width="0.22" font-weight="bold" text-anchor="middle">14</text>
<text x="373.28" y="663.55" font-size="6.5" fill="#bd1f2b" stroke="#bd1f2b" stroke-width="0.22" font-weight="bold" text-anchor="middle">12</text>
<text x="399.67" y="663.55" font-size="6.5" fill="#bd1f2b" stroke="#bd1f2b" stroke-width="0.22" font-weight="bold" text-anchor="middle">9</text>
<text x="426.06" y="663.55" font-size="6.5" fill="#bd1f2b" stroke="#bd1f2b" stroke-width="0.22" font-weight="bold" text-anchor="middle">6</text>
<text x="452.45" y="663.55" font-size="6.5" fill="#bd1f2b" stroke="#bd1f2b" stroke-width="0.22" font-weight="bold" text-anchor="middle">4</text>
<text x="478.84" y="663.55" font-size="6.5" fill="#bd1f2b" stroke="#bd1f2b" stroke-width="0.22" font-weight="bold" text-anchor="middle">3</text>
<text x="505.23" y="663.55" font-size="6.5" fill="#bd1f2b" stroke="#bd1f2b" stroke-width="0.22" font-weight="bold" text-anchor="middle">2</text>
</svg>
</body></html>
